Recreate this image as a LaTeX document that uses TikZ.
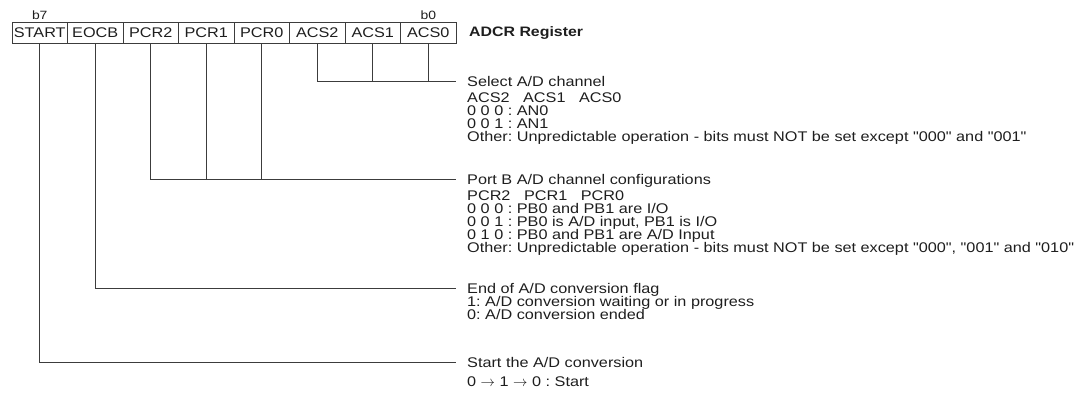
\documentclass[tikz,border=0pt]{standalone}
\usepackage{fontspec}
\setmainfont{Liberation Sans}[FakeStretch=1.16, Ligatures=TeXOff]
\usepackage{tikz}
\usetikzlibrary{positioning}
\definecolor{regline}{HTML}{3C3C3C}
\definecolor{regtext}{HTML}{1E1E1E}
\setlength{\lineskiplimit}{-20pt}

\begin{document}
\frenchspacing
\begin{tikzpicture}[
    x=1pt, y=-1pt,
    bitcell/.style={rectangle, draw=regline, line width=1pt, outer sep=0pt,
                    minimum width=55.5pt, minimum height=20.6pt, inner sep=0pt,
                    text=regtext, font=\fontsize{14}{16}\selectfont},
    bitno/.style={text=regtext, inner sep=0pt, font=\fontsize{12}{14}\selectfont},
    regtitle/.style={anchor=west, inner sep=0pt, text=regtext,
                     font=\bfseries\fontsize{13.7}{16}\selectfont},
    fieldtitle/.style={anchor=west, inner xsep=11pt, inner ysep=0pt,
                       text height=10pt, text depth=0pt, text=regtext,
                       font=\fontsize{14}{13}\selectfont},
    fieldinfo/.style={anchor=north west, inner xsep=11pt, inner ysep=0pt,
                      align=left, text=regtext,
                      font=\fontsize{14}{13}\selectfont},
    link/.style={draw=regline, line width=1pt},
  ]
  \useasboundingbox (0,0) rectangle (1087,394);

  % register cells, b7 .. b0
  \node[bitcell] (start) at (39.75,33) {START};
  \node[bitcell, right=0pt of start] (eocb) {EOCB};
  \node[bitcell, right=0pt of eocb] (pcr2) {PCR2};
  \node[bitcell, right=0pt of pcr2] (pcr1) {PCR1};
  \node[bitcell, right=0pt of pcr1] (pcr0) {PCR0};
  \node[bitcell, right=0pt of pcr0] (acs2) {ACS2};
  \node[bitcell, right=0pt of acs2] (acs1) {ACS1};
  \node[bitcell, right=0pt of acs1] (acs0) {ACS0};
  \node[bitno, above=3pt of start] (b7) {b7};
  \node[bitno, above=3pt of acs0] (b0) {b0};
  \node[regtitle, right=13pt of acs0] (adcr) {ADCR Register};

  % field descriptions
  \node[fieldtitle] (selttl) at (456,81) {Select A/D channel};
  \node[fieldinfo] (selinfo) at (456,93) {ACS2\ \ \ ACS1\ \ \ ACS0\\
    0 0 0 : AN0\\
    0 0 1 : AN1\\
    Other: Unpredictable operation - bits must NOT be set except "000" and "001"};

  \node[fieldtitle] (pcrttl) at (456,179) {Port B A/D channel configurations};
  \node[fieldinfo] (pcrinfo) at (456,191) {PCR2\ \ \ PCR1\ \ \ PCR0\\
    0 0 0 : PB0 and PB1 are I/O\\
    0 0 1 : PB0 is A/D input, PB1 is I/O\\
    0 1 0 : PB0 and PB1 are A/D Input\\
    Other: Unpredictable operation - bits must NOT be set except "000", "001" and "010"};

  \node[fieldtitle] (eocttl) at (456,288) {End of A/D conversion flag};
  \node[fieldinfo] (eocinfo) at (456,296) {1: A/D conversion waiting or in progress\\
    0: A/D conversion ended};

  \node[fieldtitle] (stttl) at (456,362) {Start the A/D conversion};
  \node[fieldinfo] (stinfo) at (456,377) {0 $\rightarrow$ 1 $\rightarrow$ 0 : Start};

  % connectors
  \draw[link] (acs2.south) |- (selttl.west);
  \draw[link] (acs1.south) -- (acs1.south |- selttl.west);
  \draw[link] (acs0.south) -- (acs0.south |- selttl.west);
  \draw[link] (pcr2.south) |- (pcrttl.west);
  \draw[link] (pcr1.south) -- (pcr1.south |- pcrttl.west);
  \draw[link] (pcr0.south) -- (pcr0.south |- pcrttl.west);
  \draw[link] (eocb.south) |- (eocttl.west);
  \draw[link] (start.south) |- (stttl.west);
\end{tikzpicture}
\end{document}
